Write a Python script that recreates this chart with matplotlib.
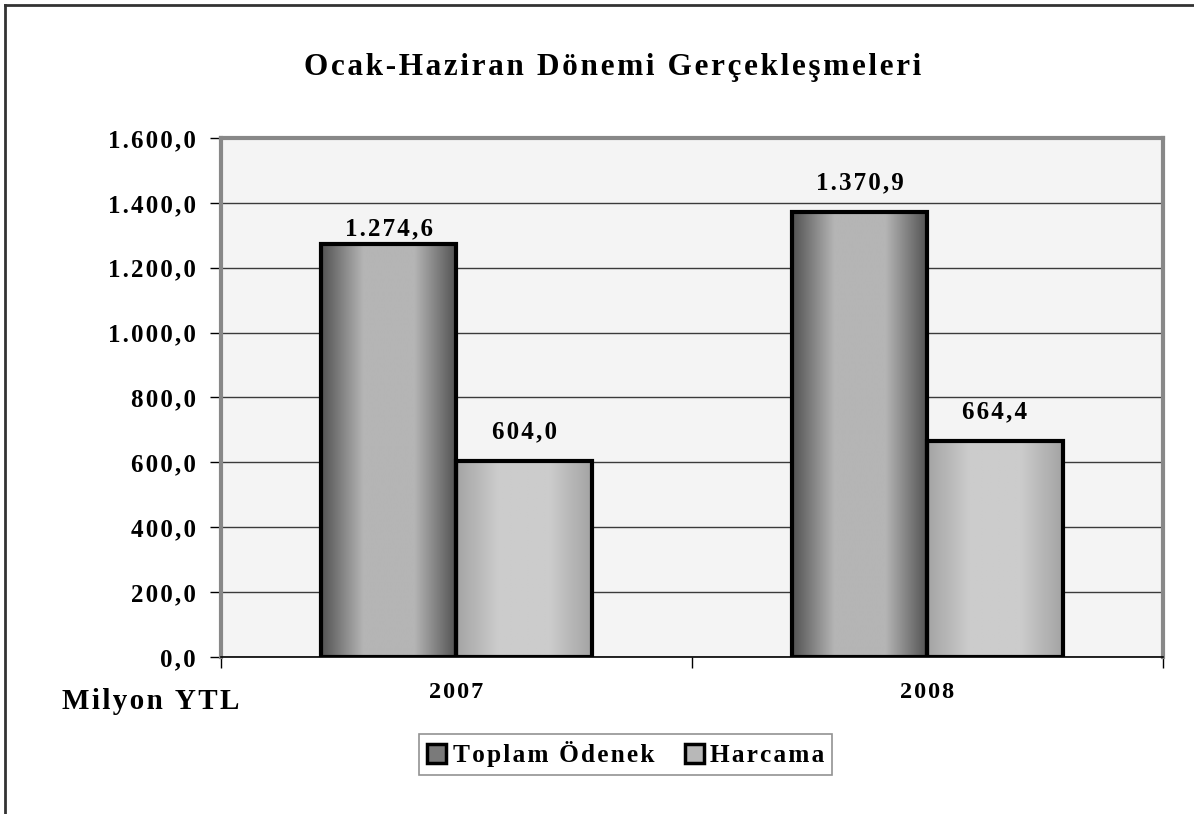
import matplotlib
matplotlib.use("Agg")
import matplotlib.pyplot as plt
import numpy as np
from matplotlib.lines import Line2D
from matplotlib.patches import Patch
from matplotlib.ticker import FuncFormatter

years = ["2007", "2008"]
series_names = ["Toplam Ödenek", "Harcama"]
toplam_odenek = [1274.6, 1370.9]
harcama = [604.0, 664.4]
y_ticks = [0, 200, 400, 600, 800, 1000, 1200, 1400, 1600]
title = "Ocak-Haziran Dönemi Gerçekleşmeleri"
unit_label = "Milyon YTL"

plt.rcParams["font.family"] = ["Liberation Serif", "DejaVu Serif"]
plt.rcParams["font.weight"] = "bold"

HS = "\u200a"  # hair space, fakes Excel's wide letter spacing


def spaced(s):
    return (HS + " " + HS).join(HS.join(word) for word in s.split(" "))


def tr_num(v):
    s = f"{v:,.1f}"
    return s.replace(",", "X").replace(".", ",").replace("X", ".")


def gradient(lo, hi, n=256):
    x = np.linspace(0, 1, n)
    # dark edges, light centre
    prof = np.clip((1 - np.abs(x - 0.5) / 0.5) * 1.6, 0, 1)
    return (lo + (hi - lo) * prof).reshape(1, -1)


fig = plt.figure(figsize=(11.94, 8.14), dpi=100)
ax = fig.add_axes([0.1851, 0.1929, 0.7889, 0.6376])
ax.set_facecolor("#f4f4f4")

x = np.arange(len(years))
w = 0.287
# (values, bar offset, gradient dark, gradient light, label gap in points per bar)
specs = [
    (toplam_odenek, -w / 2, 0.32, 0.71, [2, 13]),
    (harcama, w / 2, 0.64, 0.80, [13, 13]),
]
for vals, off, lo, hi, gaps in specs:
    bars = ax.bar(x + off, vals, width=w, facecolor="none", edgecolor="black",
                  linewidth=3, zorder=4)
    for b, v, g in zip(bars, vals, gaps):
        x0 = b.get_x()
        img = ax.imshow(gradient(lo, hi), cmap="gray", vmin=0, vmax=1,
                        extent=(x0, x0 + b.get_width(), 0, v), aspect="auto",
                        zorder=3, interpolation="bilinear")
        img.set_clip_path(b)
        ax.annotate(spaced(tr_num(v)), (x0 + b.get_width() / 2, v),
                    xytext=(0, g), textcoords="offset points",
                    ha="center", va="bottom", fontsize=18, fontweight="bold", zorder=5)

ax.set_xlim(-0.5, 1.5)
ax.set_ylim(0, 1600)
ax.set_yticks(y_ticks)
ax.yaxis.set_major_formatter(FuncFormatter(lambda v, p: spaced(tr_num(v))))
ax.grid(axis="y", color="#3a3a3a", linewidth=1, zorder=1)
ax.set_axisbelow(True)

ax.set_xticks([-0.5, 0.5, 1.5])
ax.set_xticklabels([])
ax.tick_params(axis="x", length=8, width=1, color="black")
ax.tick_params(axis="y", length=8, width=1, color="black", labelsize=18, pad=10)
for t in ax.get_yticklabels():
    t.set_fontweight("bold")

for side in ["top", "left", "right"]:
    ax.spines[side].set_color("#888888")
    ax.spines[side].set_linewidth(3)
ax.spines["bottom"].set_color("black")
ax.spines["bottom"].set_linewidth(1.2)

xform = ax.get_xaxis_transform()
for xi, yr in zip(x, years):
    ax.text(xi, -0.069, spaced(yr), transform=xform,
            ha="center", va="center", fontsize=17.5, fontweight="bold")

fig.text(0.0519, 0.1376, spaced(unit_label),
         ha="left", va="center", fontsize=21, fontweight="bold")

fig.text(0.5134, 0.9165, spaced(title),
         ha="center", va="center", fontsize=22.5, fontweight="bold")

handles = [
    Patch(facecolor="#7a7a7a", edgecolor="black", linewidth=2.5),
    Patch(facecolor="#b8b8b8", edgecolor="black", linewidth=2.5),
]
leg = fig.legend(handles, [spaced(n) for n in series_names], loc="center",
                 bbox_to_anchor=(0.524, 0.0731), ncol=2, fontsize=18.3,
                 frameon=True, fancybox=False, edgecolor="#777777",
                 handlelength=0.75, handleheight=0.75, handletextpad=0.25,
                 columnspacing=1.2, borderpad=0.3)
leg.get_frame().set_linewidth(1.2)
for t in leg.get_texts():
    t.set_fontweight("bold")

# outer chart border (top and left)
fig.add_artist(Line2D([5 / 1194, 1.0], [1 - 5 / 814] * 2, transform=fig.transFigure,
                      color="#333333", linewidth=2))
fig.add_artist(Line2D([5 / 1194] * 2, [0, 1 - 5 / 814], transform=fig.transFigure,
                      color="#333333", linewidth=2))

fig.savefig("out.png", dpi=100)
